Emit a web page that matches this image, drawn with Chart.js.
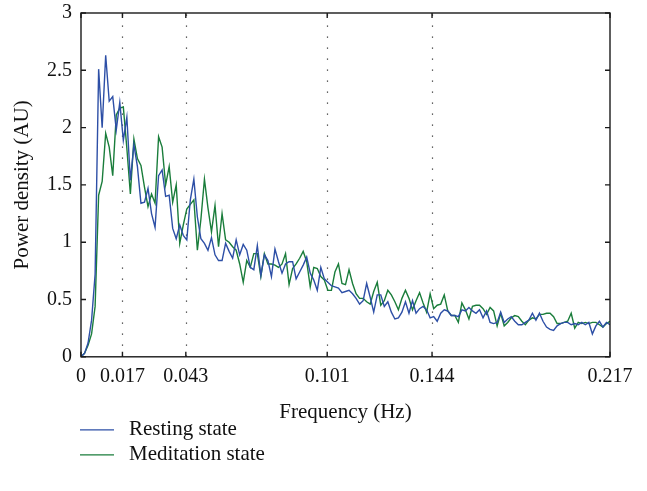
<!DOCTYPE html>
<html>
<head>
<meta charset="utf-8">
<script src="https://cdn.jsdelivr.net/npm/chart.js@4.4.1/dist/chart.umd.min.js"></script>
<style>
  html, body { margin: 0; padding: 0; background: #fff; }
  #wrap { width: 647px; height: 491px; position: relative; }
</style>
</head>
<body>
<div id="wrap"><canvas id="chartCanvas"></canvas></div>
<script>
// spectrum bins, 0 .. 0.217 Hz
const binHz = 0.217 / 150;

const restingState = [
  0, 0.03, 0.12, 0.32, 0.72, 2.51, 2.00, 2.63, 2.23, 2.27,
  1.98, 2.22, 1.89, 2.09, 1.54, 1.85, 1.66, 1.34, 1.35, 1.47,
  1.25, 1.13, 1.58, 1.63, 1.40, 1.41, 1.12, 1.03, 1.15, 1.06,
  1.02, 1.37, 1.55, 1.22, 1.03, 0.99, 0.93, 1.04, 0.89, 0.84,
  0.84, 0.99, 0.92, 0.86, 1.02, 0.89, 0.98, 0.93, 0.78, 0.76,
  0.97, 0.71, 0.89, 0.84, 0.70, 0.94, 0.83, 0.73, 0.81, 0.83,
  0.83, 0.68, 0.74, 0.80, 0.87, 0.73, 0.67, 0.58, 0.78, 0.68,
  0.65, 0.62, 0.61, 0.60, 0.56, 0.57, 0.58, 0.55, 0.51, 0.46,
  0.49, 0.64, 0.52, 0.39, 0.54, 0.54, 0.44, 0.48, 0.39, 0.33,
  0.34, 0.39, 0.48, 0.38, 0.49, 0.38, 0.42, 0.44, 0.41, 0.34,
  0.35, 0.31, 0.38, 0.41, 0.40, 0.36, 0.36, 0.35, 0.41, 0.40,
  0.43, 0.40, 0.38, 0.41, 0.34, 0.40, 0.30, 0.29, 0.30, 0.39,
  0.30, 0.33, 0.35, 0.31, 0.28, 0.28, 0.30, 0.32, 0.38, 0.32,
  0.38, 0.31, 0.26, 0.24, 0.23, 0.27, 0.29, 0.30, 0.30, 0.28,
  0.29, 0.28, 0.30, 0.28, 0.30, 0.20, 0.27, 0.31, 0.26, 0.30,
  0.28
];

const meditationState = [
  0, 0.03, 0.10, 0.20, 0.44, 1.41, 1.53, 1.95, 1.83, 1.58,
  2.11, 2.17, 2.18, 1.82, 1.42, 1.90, 1.73, 1.67, 1.48, 1.31,
  1.42, 1.34, 1.92, 1.83, 1.50, 1.66, 1.35, 1.50, 0.99, 1.15,
  1.29, 1.33, 1.37, 0.93, 1.20, 1.55, 1.30, 1.09, 1.32, 0.96,
  1.25, 1.02, 1.00, 0.96, 0.93, 0.81, 0.65, 0.84, 0.78, 0.90,
  0.90, 0.70, 0.90, 0.81, 0.81, 0.80, 0.78, 0.81, 0.90, 0.63,
  0.77, 0.81, 0.86, 0.92, 0.83, 0.61, 0.78, 0.77, 0.70, 0.67,
  0.58, 0.58, 0.74, 0.81, 0.64, 0.63, 0.76, 0.64, 0.55, 0.51,
  0.51, 0.48, 0.46, 0.57, 0.65, 0.45, 0.49, 0.58, 0.54, 0.48,
  0.41, 0.51, 0.58, 0.51, 0.41, 0.49, 0.56, 0.47, 0.39, 0.55,
  0.42, 0.45, 0.46, 0.54, 0.40, 0.36, 0.36, 0.30, 0.47, 0.41,
  0.33, 0.44, 0.45, 0.45, 0.42, 0.37, 0.43, 0.40, 0.27, 0.38,
  0.27, 0.30, 0.34, 0.36, 0.35, 0.31, 0.28, 0.32, 0.34, 0.33,
  0.37, 0.37, 0.38, 0.38, 0.35, 0.29, 0.29, 0.30, 0.31, 0.38,
  0.25, 0.30, 0.29, 0.30, 0.29, 0.30, 0.30, 0.28, 0.26, 0.29,
  0.31
];

const xTickValues = [0, 0.017, 0.043, 0.101, 0.144, 0.217];
const dottedLines = [0.017, 0.043, 0.101, 0.144];
const seriesNames = ['Resting state', 'Meditation state'];
const seriesColors = ['#2d4fa6', '#1a7d3b'];

const serif = "'Liberation Serif', 'DejaVu Serif', serif";
Chart.defaults.font.family = serif;
Chart.defaults.font.size = 20;
Chart.defaults.color = '#111';

function toPoints(values) {
  return values.map((v, i) => ({ x: i * binHz, y: v }));
}

// box, inward ticks, dotted guides and the stacked legend
const framePlugin = {
  id: 'frame',
  beforeDatasetsDraw(chart) {
    const { ctx, chartArea: a, scales: { x } } = chart;
    ctx.save();
    ctx.strokeStyle = '#333';
    ctx.lineWidth = 1.2;
    ctx.setLineDash([1.2, 9.8]);
    dottedLines.forEach(v => {
      const px = Math.round(x.getPixelForValue(v)) + 0.5;
      ctx.beginPath();
      ctx.moveTo(px, a.bottom);
      ctx.lineTo(px, a.top);
      ctx.stroke();
    });
    ctx.restore();
  },
  afterDatasetsDraw(chart) {
    const { ctx, chartArea: a, scales: { x, y } } = chart;
    ctx.save();
    ctx.strokeStyle = '#1a1a1a';
    ctx.lineWidth = 1.4;
    ctx.strokeRect(a.left, a.top, a.right - a.left, a.bottom - a.top);
    ctx.beginPath();
    x.ticks.forEach(t => {
      const px = x.getPixelForValue(t.value);
      ctx.moveTo(px, a.bottom); ctx.lineTo(px, a.bottom - 5);
      ctx.moveTo(px, a.top); ctx.lineTo(px, a.top + 5);
    });
    y.ticks.forEach(t => {
      const py = y.getPixelForValue(t.value);
      ctx.moveTo(a.left, py); ctx.lineTo(a.left + 5, py);
      ctx.moveTo(a.right, py); ctx.lineTo(a.right - 5, py);
    });
    ctx.stroke();
    ctx.restore();
  },
  afterDraw(chart) {
    const { ctx, chartArea: a } = chart;
    ctx.save();
    ctx.font = '21px ' + serif;
    ctx.textBaseline = 'middle';
    ctx.fillStyle = '#111';
    chart.data.datasets.forEach((ds, i) => {
      const ly = a.bottom + 73 + i * 25;
      ctx.strokeStyle = ds.borderColor;
      ctx.lineWidth = 1.3;
      ctx.beginPath();
      ctx.moveTo(a.left - 1, ly);
      ctx.lineTo(a.left + 33, ly);
      ctx.stroke();
      ctx.fillText(ds.label, a.left + 48, ly);
    });
    ctx.restore();
  }
};

const ctx = document.getElementById('chartCanvas').getContext('2d');
const chart = new Chart(ctx, {
  type: 'line',
  data: {
    datasets: [
      {
        label: seriesNames[0],
        data: toPoints(restingState),
        borderColor: seriesColors[0],
        borderWidth: 1.4,
        pointRadius: 0,
        tension: 0,
        fill: false
      },
      {
        label: seriesNames[1],
        data: toPoints(meditationState),
        borderColor: seriesColors[1],
        borderWidth: 1.4,
        pointRadius: 0,
        tension: 0,
        fill: false
      }
    ]
  },
  options: {
    responsive: true,
    maintainAspectRatio: false,
    animation: false,
    layout: { padding: { left: 0, top: 13, right: 37, bottom: 62 } },
    plugins: {
      legend: { display: false },
      tooltip: { enabled: false }
    },
    scales: {
      x: {
        type: 'linear',
        min: 0,
        max: 0.217,
        afterBuildTicks(scale) {
          scale.ticks = xTickValues.map(v => ({ value: v }));
        },
        ticks: {
          autoSkip: false,
          maxRotation: 0,
          padding: 8,
          color: '#111',
          callback: v => String(v)
        },
        grid: { display: false, drawTicks: false },
        border: { display: false },
        title: {
          display: true,
          text: 'Frequency (Hz)',
          color: '#111',
          font: { size: 21 },
          padding: { top: 3, bottom: 4 }
        }
      },
      y: {
        min: 0,
        max: 3,
        ticks: {
          stepSize: 0.5,
          padding: 9,
          color: '#111',
          callback: v => String(v)
        },
        grid: { display: false, drawTicks: false },
        border: { display: false },
        title: {
          display: true,
          text: 'Power density (AU)',
          color: '#111',
          font: { size: 21 },
          padding: { top: 10, bottom: 0 }
        },
        afterFit(scale) {
          scale.width = 81;
          scale.paddingTop = 0;
          scale.paddingBottom = 0;
        }
      }
    }
  },
  plugins: [framePlugin]
});
</script>
</body>
</html>
